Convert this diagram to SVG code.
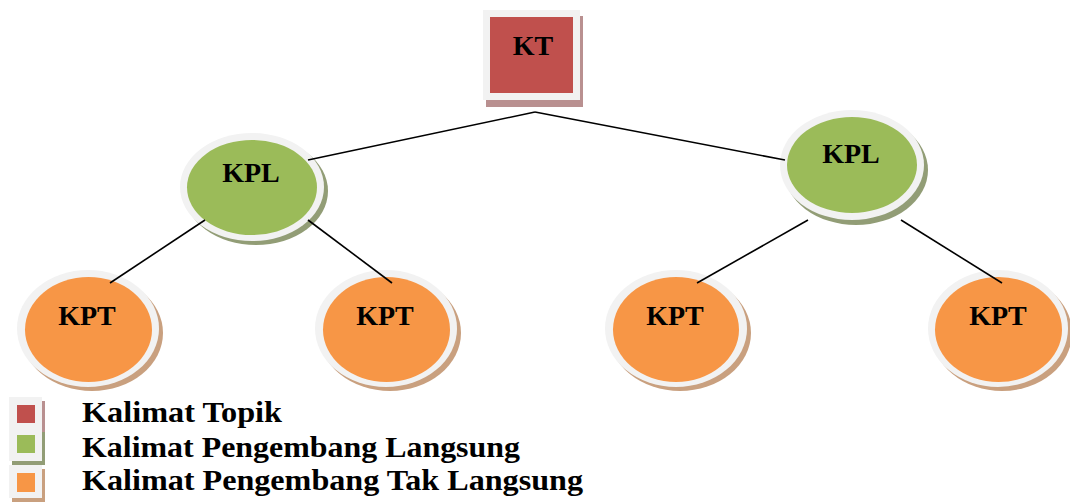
<svg xmlns="http://www.w3.org/2000/svg" width="1070" height="502" viewBox="0 0 1070 502">
  <style>
    .lbl { font-family: "Liberation Serif", "Times New Roman", serif; font-weight: bold; font-size: 28px; fill: #000; text-anchor: middle; }
    .leg { font-family: "Liberation Serif", "Times New Roman", serif; font-weight: bold; font-size: 30px; fill: #000; }
    .rim { fill: #f2f2f2; }
    .red { fill: #c0504d; }
    .green { fill: #9bbb59; }
    .orange { fill: #f79646; }
    .sh-red { fill: #b99090; }
    .sh-green { fill: #929d76; }
    .sh-orange { fill: #c9a07f; }
    .edge { stroke: #000; stroke-width: 1.6; fill: none; }
  </style>
  <rect width="1070" height="502" fill="#fff"/>

  <!-- topic sentence -->
  <g id="kt">
    <rect class="sh-red" x="486" y="16" width="97" height="91"/>
    <rect class="rim" x="483" y="10" width="97" height="90"/>
    <rect class="red" x="490" y="17" width="83" height="76"/>
    <text class="lbl" x="533" y="55">KT</text>
  </g>

  <!-- direct supporting sentences -->
  <g id="kpl-left">
    <ellipse class="sh-green" cx="256" cy="191" rx="72" ry="54"/>
    <ellipse class="rim" cx="252" cy="187" rx="72" ry="54"/>
    <ellipse class="green" cx="252" cy="187.5" rx="65" ry="47.5"/>
    <text class="lbl" x="251" y="182">KPL</text>
  </g>
  <g id="kpl-right">
    <ellipse class="sh-green" cx="856" cy="170" rx="72" ry="55"/>
    <ellipse class="rim" cx="852" cy="165" rx="72" ry="55"/>
    <ellipse class="green" cx="852" cy="165" rx="65" ry="48"/>
    <text class="lbl" x="851" y="163">KPL</text>
  </g>

  <!-- indirect supporting sentences -->
  <g id="kpt-1">
    <ellipse class="sh-orange" cx="92" cy="333" rx="71" ry="58"/>
    <ellipse class="rim" cx="88" cy="328.5" rx="71" ry="58.5"/>
    <ellipse class="orange" cx="88.5" cy="329.5" rx="63.5" ry="52.5"/>
    <text class="lbl" x="87" y="325">KPT</text>
  </g>
  <g id="kpt-2">
    <ellipse class="sh-orange" cx="390" cy="333" rx="71" ry="58"/>
    <ellipse class="rim" cx="386" cy="328.5" rx="71" ry="58.5"/>
    <ellipse class="orange" cx="386.5" cy="329.5" rx="63.5" ry="52.5"/>
    <text class="lbl" x="385" y="325">KPT</text>
  </g>
  <g id="kpt-3">
    <ellipse class="sh-orange" cx="680" cy="333" rx="71" ry="58"/>
    <ellipse class="rim" cx="676" cy="328.5" rx="71" ry="58.5"/>
    <ellipse class="orange" cx="676" cy="329.5" rx="63" ry="52.5"/>
    <text class="lbl" x="675" y="325">KPT</text>
  </g>
  <g id="kpt-4">
    <ellipse class="sh-orange" cx="1002" cy="333" rx="70" ry="58"/>
    <ellipse class="rim" cx="998" cy="328.5" rx="70" ry="58.5"/>
    <ellipse class="orange" cx="998.5" cy="329.5" rx="63.5" ry="52.5"/>
    <text class="lbl" x="998" y="325">KPT</text>
  </g>

  <!-- connectors, drawn over the node rims -->
  <g id="connectors">
    <line class="edge" x1="535" y1="112" x2="308" y2="160"/>
    <line class="edge" x1="535" y1="112" x2="785" y2="160"/>
    <line class="edge" x1="205" y1="220" x2="110" y2="283"/>
    <line class="edge" x1="308" y1="220" x2="392" y2="283"/>
    <line class="edge" x1="808" y1="220" x2="697" y2="283"/>
    <line class="edge" x1="901" y1="220" x2="1002" y2="283"/>
  </g>

  <!-- legend -->
  <g id="legend">
    <rect class="sh-red" x="12" y="401" width="33" height="33"/>
    <rect class="rim" x="9" y="397" width="33" height="33"/>
    <rect class="red" x="17" y="405" width="18" height="18"/>
    <text class="leg" x="82" y="422" textLength="200" lengthAdjust="spacingAndGlyphs">Kalimat Topik</text>

    <rect class="sh-green" x="12" y="432" width="33" height="33"/>
    <rect class="rim" x="9" y="428" width="33" height="33"/>
    <rect class="green" x="17" y="435" width="18" height="18"/>
    <text class="leg" x="82" y="457" textLength="438" lengthAdjust="spacingAndGlyphs">Kalimat Pengembang Langsung</text>

    <rect class="sh-orange" x="12" y="469" width="33" height="33"/>
    <rect class="rim" x="9" y="465" width="33" height="33"/>
    <rect class="orange" x="17" y="473" width="18" height="19"/>
    <text class="leg" x="82" y="490" textLength="501" lengthAdjust="spacingAndGlyphs">Kalimat Pengembang Tak Langsung</text>
  </g>
</svg>
